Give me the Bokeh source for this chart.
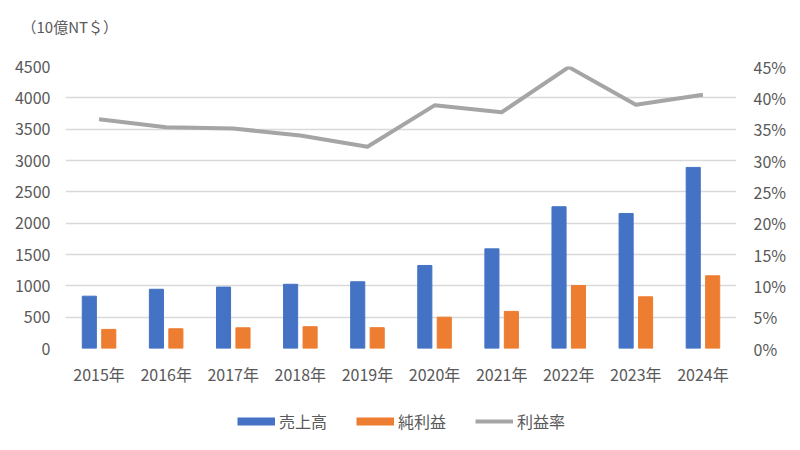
from bokeh.plotting import figure
from bokeh.layouts import column
from bokeh.models import (ColumnDataSource, FactorRange, Range1d, LinearAxis, FixedTicker,
                          NumeralTickFormatter, Legend, LegendItem)
from bokeh.transform import dodge
from bokeh.embed import file_html
from bokeh.resources import INLINE

years = ["2015年", "2016年", "2017年", "2018年", "2019年", "2020年", "2021年", "2022年", "2023年", "2024年"]
sales = [835, 945, 980, 1025, 1065, 1325, 1590, 2262, 2155, 2890]
net_income = [305, 315, 330, 348, 332, 500, 592, 1005, 825, 1160]
margin = [0.366, 0.353, 0.351, 0.340, 0.322, 0.388, 0.377, 0.449, 0.389, 0.405]
left_ticks = [0, 500, 1000, 1500, 2000, 2500, 3000, 3500, 4000, 4500]
right_ticks = [0, 0.05, 0.10, 0.15, 0.20, 0.25, 0.30, 0.35, 0.40, 0.45]
unit_label = "（10億NT＄）"
names = ["売上高", "純利益", "利益率"]

FONT = "Noto Sans CJK JP"
TXT = "#595959"
GRID = "#D9D9D9"
BLUE = "#4472C4"
ORANGE = "#ED7D31"
GRAY = "#A5A5A5"
W = 798


def blank_fig(h, **kw):
    f = figure(width=W, height=h, x_range=Range1d(0, 1), y_range=Range1d(0, 1),
               x_axis_type=None, y_axis_type=None, output_backend="svg",
               toolbar_location=None, **kw)
    f.outline_line_color = None
    f.xgrid.visible = False
    f.ygrid.visible = False
    f.border_fill_color = "white"
    f.background_fill_color = "white"
    return f


# ---- header with unit label (figure title) ----
head = blank_fig(54, title=unit_label, min_border_left=0, min_border_right=0,
                 min_border_bottom=0, min_border_top=38)
head.title.align = "left"
head.title.offset = -44
head.title.standoff = 3
head.title.text_font = FONT
head.title.text_font_size = "15px"
head.title.text_font_style = "normal"
head.title.text_color = TXT

# ---- main chart ----
src = ColumnDataSource(dict(year=years, sales=sales, net=net_income, margin=margin))

p = figure(width=W, height=334, x_range=FactorRange(*years, range_padding=0),
           y_range=Range1d(0, 4500), output_backend="svg", toolbar_location=None,
           min_border_left=65, min_border_right=62, min_border_top=12, min_border_bottom=40)
p.outline_line_color = None
p.background_fill_color = "white"
p.border_fill_color = "white"
p.extra_y_ranges = {"pct": Range1d(0, 0.45)}

p.vbar(x=dodge("year", -0.145, range=p.x_range), top="sales", width=0.21,
       source=src, color=BLUE)
p.vbar(x=dodge("year", 0.145, range=p.x_range), top="net", width=0.21,
       source=src, color=ORANGE)
p.line(x="year", y="margin", source=src, y_range_name="pct",
       line_color=GRAY, line_width=4, line_join="round")

p.yaxis.ticker = FixedTicker(ticks=left_ticks)
p.xgrid.grid_line_color = None
p.ygrid.grid_line_color = GRID
p.ygrid.grid_line_width = 1.3

for ax in [p.xaxis[0], p.yaxis[0]]:
    ax.axis_line_color = None
    ax.major_tick_line_color = None
    ax.minor_tick_line_color = None
    ax.major_tick_out = 0
    ax.major_tick_in = 0
    ax.major_label_text_font = FONT
    ax.major_label_text_font_size = "16px"
    ax.major_label_text_color = TXT
p.yaxis.major_label_standoff = 15
p.xaxis.major_label_standoff = 13

ax2 = LinearAxis(y_range_name="pct", ticker=FixedTicker(ticks=right_ticks),
                 formatter=NumeralTickFormatter(format="0%"))
ax2.axis_line_color = None
ax2.major_tick_line_color = None
ax2.minor_tick_line_color = None
ax2.major_tick_out = 0
ax2.major_tick_in = 0
ax2.major_label_text_font = FONT
ax2.major_label_text_font_size = "16px"
ax2.major_label_text_color = TXT
ax2.major_label_standoff = 17
p.add_layout(ax2, "right")

# ---- legend strip ----
leg = blank_fig(46, min_border=0)
sw_sales = leg.line(x=[0.5], y=[2], line_color=BLUE, line_width=8)
sw_net = leg.line(x=[0.5], y=[2], line_color=ORANGE, line_width=8)
sw_rate = leg.line(x=[0.5], y=[2], line_color=GRAY, line_width=4)
legend = Legend(items=[LegendItem(label=names[0], renderers=[sw_sales]),
                       LegendItem(label=names[1], renderers=[sw_net]),
                       LegendItem(label=names[2], renderers=[sw_rate])],
                orientation="horizontal", location=(172, 1),
                glyph_width=38, glyph_height=20, label_standoff=4, spacing=29,
                padding=0, margin=0, border_line_color=None, background_fill_alpha=0,
                label_text_font=FONT, label_text_font_size="16px", label_text_color=TXT)
leg.add_layout(legend, "center")

layout = column(head, p, leg, spacing=0)
open("out.html", "w").write(file_html(layout, INLINE))
